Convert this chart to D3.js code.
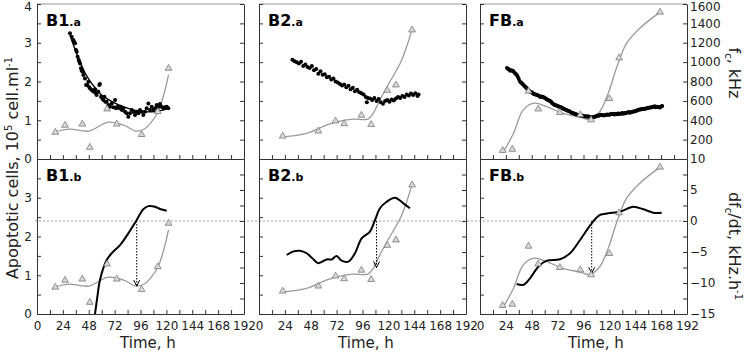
<!DOCTYPE html>
<html>
<head>
<meta charset="utf-8">
<script src="https://cdn.jsdelivr.net/npm/d3@7"></script>
<style>
  body { margin: 0; background: #fff; }
  text { font-family: "DejaVu Sans", Verdana, sans-serif; }
</style>
</head>
<body>
<div id="canvas"></div>
<script>
"use strict"

/***********************************
 DATA
************************************/
let panelNames = ["B1", "B2", "FB"];

// apoptotic cells (10^5 cell/ml), measured points
let b1TriTime = [17, 26, 42, 49, 65, 74, 97, 112, 122];
let b1TriVal = [0.69, 0.87, 0.9, 0.3, 1.29, 0.9, 0.63, 1.22, 2.34];
let b2TriTime = [22, 55, 71, 79, 95, 104, 119, 127, 142];
let b2TriVal = [0.59, 0.72, 0.98, 0.91, 1.13, 0.89, 1.77, 1.91, 3.33];
let fbTriTime = [21, 30, 45, 54, 74, 93, 103, 120, 129, 167];
let fbTriVal = [0.22, 0.25, 1.75, 1.29, 1.2, 1.14, 1.01, 1.56, 2.61, 3.79];

// smoothed apoptotic curve
let b1CurveTime = [17, 30, 48, 66, 80, 92, 100, 106, 112, 117, 122];
let b1CurveVal = [0.70, 0.77, 0.72, 0.95, 0.88, 0.72, 0.78, 0.95, 1.2, 1.6, 2.17];
let b2CurveTime = [22, 44, 63, 72, 87, 101, 106, 112, 121.5, 131, 137, 142];
let b2CurveVal = [0.57, 0.66, 0.88, 0.96, 1.03, 1.03, 1.18, 1.52, 2.0, 2.47, 2.9, 3.35];
let fbCurveTime = [21, 31, 40, 50, 62, 77, 93, 102, 111, 119, 127, 136, 148, 167];
let fbCurveVal = [0.15, 0.66, 1.26, 1.44, 1.35, 1.18, 1.08, 1.02, 1.22, 1.70, 2.38, 2.99, 3.37, 3.79];

// fc, kHz: [time h, kHz]
let b1Dots = [[30.6,1297],[32.2,1262],[33.7,1228],[34.3,1211],[35.3,1194],[36.2,1125],[36.8,1108],
  [37.7,1056],[38.7,1022],[39.3,1004],[39.9,987],[40.8,936],[41.4,912],[42.4,901],[43,867],[44.5,832],
  [45.5,764],[46.7,764],[47.6,798],[48.5,740],[49.2,729],[50.7,712],[51.6,705],[52.9,695],[53.8,719],
  [54.7,678],[55.3,660],[56.9,695],[57.8,764],[58.4,774],[59.4,643],[60.6,626],[61.5,609],[62.5,643],
  [63.4,592],[64.6,592],[66.2,557],[67.7,540],[69.3,574],[70.8,533],[72.4,609],[73.3,523],[74.5,540],
  [76.4,523],[77.6,540],[78.8,506],[80.1,523],[81.6,488],[83.2,471],[84.7,437],[86.3,471],[87.8,506],
  [89.4,488],[90.9,454],[92.5,488],[94,471],[95.5,506],[97.1,488],[98.6,454],[100.2,488],[101.7,523],
  [103.3,574],[104.8,506],[106.4,540],[107.9,506],[109.5,523],[111,557],[112.6,540],[114.1,568],
  [115.6,540],[117.2,523],[118.7,533],[120.3,540],[121.8,523]];
let b2Dots = [[31,1025],[33,1010],[35,1000],[37,985],[39,1005],[41,960],[43,975],[45,950],[47,940],
  [49,960],[51,915],[53,930],[55,880],[57,905],[59,870],[61,875],[63,845],[65,850],[67,820],[69,830],
  [71,800],[73,790],[75,775],[77,760],[79,770],[81,740],[83,755],[85,720],[87,735],[89,700],[91,715],
  [93,690],[95,680],[97,665],[99,640],[100,585],[101,630],[103,625],[105,610],[107,630],[109,600],
  [111,620],[113,585],[115,570],[117,600],[119,610],[121,590],[123,615],[125,605],[127,625],[129,640],
  [131,630],[133,650],[135,640],[137,665],[139,655],[141,675],[143,660],[145,680],[147,650],[148,665]];
let fbDots = [[25,940],[26,930],[27,925],[28,912],[29,915],[30,910],[31,905],[32,890],[33,880],[34,870],
  [35,850],[36,825],[37,800],[38,790],[39,780],[40,768],[41,755],[42,742],[43,735],[44,722],[45,710],
  [46,700],[47,690],[48,688],[49,680],[50,672],[51,668],[52,662],[53,660],[54,655],[55,650],[56,640],
  [57,645],[58,642],[59,638],[60,630],[61,625],[62,615],[63,612],[64,605],[65,600],[66,590],[67,575],
  [68,568],[69,560],[70,555],[71,552],[72,548],[73,542],[74,538],[75,535],[76,528],[77,522],[78,515],
  [79,510],[80,505],[81,500],[82,495],[83,492],[84,485],[85,478],[86,474],[87,470],[88,466],[89,462],
  [90,458],[91,455],[92,452],[93,450],[94,446],[95,448],[96,445],[97,442],[98,438],[99,440],[100,441],
  [101,436],[102,434],[103,432],[104,428],[105,430],[106,435],[107,438],[108,442],[109,448],[110,446],
  [111,452],[112,456],[113,455],[114,452],[115,450],[116,454],[117,456],[118,460],[119,458],[120,458],
  [121,462],[122,468],[123,465],[124,462],[125,460],[126,466],[127,462],[128,470],[129,466],[130,464],
  [131,470],[132,474],[133,468],[134,472],[135,476],[136,478],[137,480],[138,484],[139,478],[140,482],
  [141,486],[142,490],[143,490],[144,494],[145,498],[146,502],[147,508],[148,510],[149,512],[150,515],
  [151,515],[152,518],[153,520],[154,522],[155,525],[156,528],[157,530],[158,532],[159,535],[160,538],
  [161,540],[162,545],[163,534],[164,540],[165,538],[166,535],[167,532],[168,542],[169,548]];

// fitted fc line (B1 only)
let b1FitTime = [30, 35, 40, 45, 50, 55, 60, 70, 80, 90, 100, 110, 122];
let b1FitVal = [1300, 1140, 1000, 880, 790, 720, 660, 590, 540, 505, 488, 490, 520];

// dfc/dt, kHz/h
let b1DerivTime = [53.8, 56, 58.4, 64.6, 69.3, 77, 84.7, 92.5, 98.6, 103.3, 109.5, 114.1, 120.3];
let b1DerivVal = [-15, -12.2, -9.5, -6.3, -5.2, -3.9, -2.0, 0.16, 1.9, 2.4, 2.3, 1.94, 1.66];
let b2DerivTime = [25.7, 32, 38, 44.2, 50, 55, 62.8, 67.4, 72, 76.7, 82.8, 89, 95.2, 102.9, 107.6, 112.2, 118.4, 126.1, 133.9, 140];
let b2DerivVal = [-5.48, -4.9, -4.8, -5.2, -6.1, -6.8, -6.2, -6.2, -5.65, -6.4, -6.56, -5.2, -2.8, -1.7, 0.16, 2.05, 3.1, 3.76, 2.85, 2.05];
let fbDerivTime = [34, 40.2, 46.4, 54.1, 61.9, 74.2, 83.5, 92.8, 103.6, 111.3, 119, 129.9, 142.2, 151.5, 160.8, 168.5];
let fbDerivVal = [-10.16, -10.3, -9.24, -7.37, -6.4, -6.18, -5.2, -3.06, -0.37, 0.97, 1.24, 1.5, 2.3, 1.89, 1.34, 1.34];

// dotted arrows: time where dfc/dt crosses 0, end value on apoptotic curve
let arrowTime = [92.5, 109, 103.6];
let arrowVal = [0.72, 1.2, 1.05];

// tick values
let xTickLabels = [0, 24, 48, 72, 96, 120, 144, 168, 192];
let xTicks = [0, 12, 24, 36, 48, 60, 72, 84, 96, 108, 120, 132, 144, 156, 168, 180, 192];
let leftTopLabels = [0, 1, 2, 3, 4];
let leftBotLabels = [0, 1, 2, 3];
let leftTicks = [0, 0.5, 1, 1.5, 2, 2.5, 3, 3.5, 4];
let rightTopLabels = [200, 400, 600, 800, 1000, 1200, 1400, 1600];
let rightBotLabels = [-15, -10, -5, 0, 5, 10];
let rightBotTicks = [-15, -12.5, -10, -7.5, -5, -2.5, 0, 2.5, 5, 7.5, 10];

/***********************************
 LAYOUT
************************************/
let svgWidth = 746;
let svgHeight = 353;
let topY = 4, midY = 159, botY = 314;
let colX = [[37, 244], [259, 466], [480, 687]];
let timeLabelX = [148, 366, 596];
let grey = "#9a9a9a";

let svg = d3.select("#canvas")
    .append("svg")
    .attr("width", svgWidth)
    .attr("height", svgHeight);

let yLeftTop = d3.scaleLinear().domain([0, 4]).range([midY, topY]);
let yLeftBot = d3.scaleLinear().domain([0, 4]).range([botY, midY]);
let yRightTop = d3.scaleLinear().domain([0, 1600]).range([midY, topY]);
let yRightBot = d3.scaleLinear().domain([-15, 10]).range([botY, midY]);

let zip = (a, b) => a.map((v, i) => [v, b[i]]);
let plain = d3.format("d");

let panels = [
    { tri: zip(b1TriTime, b1TriVal), curve: zip(b1CurveTime, b1CurveVal), dots: b1Dots,
      fit: zip(b1FitTime, b1FitVal), deriv: zip(b1DerivTime, b1DerivVal) },
    { tri: zip(b2TriTime, b2TriVal), curve: zip(b2CurveTime, b2CurveVal), dots: b2Dots,
      fit: null, deriv: zip(b2DerivTime, b2DerivVal) },
    { tri: zip(fbTriTime, fbTriVal), curve: zip(fbCurveTime, fbCurveVal), dots: fbDots,
      fit: null, deriv: zip(fbDerivTime, fbDerivVal) }
];

function styleAxis(g) {
    g.selectAll("path, line").attr("stroke", "#333").attr("stroke-width", 1);
    g.selectAll("text").attr("font-size", "12px").attr("fill", "#222")
        .attr("font-family", "\"DejaVu Sans\", Verdana, sans-serif");
}

// keep the topmost tick label inside the picture
function nudgeTop(g) {
    g.selectAll(".tick")
        .filter(function () { return +this.getAttribute("transform").match(/,([\d.]+)\)/)[1] < topY + 1; })
        .select("text").attr("dy", "0.55em");
}

/***********************************
 DOTTED ZERO LINE (dfc/dt = 0)
************************************/
svg.append("line")
    .attr("x1", 35).attr("x2", colX[2][1])
    .attr("y1", yRightBot(0)).attr("y2", yRightBot(0))
    .attr("stroke", "#888")
    .attr("stroke-width", 0.8)
    .attr("stroke-dasharray", "2,2");

/***********************************
 PANELS
************************************/
panels.forEach((p, i) => {
    let x = d3.scaleLinear().domain([0, 192]).range(colX[i]);
    let g = svg.append("g");

    // clip paths
    [["a", topY, midY], ["b", midY, botY]].forEach(([k, y0, y1]) => {
        svg.append("clipPath").attr("id", `clip${i}${k}`)
            .append("rect")
            .attr("x", colX[i][0]).attr("y", y0)
            .attr("width", colX[i][1] - colX[i][0]).attr("height", y1 - y0);
    });

    let greyLine = y => d3.line()
        .x(d => x(d[0])).y(d => y(d[1]))
        .curve(d3.curveCatmullRom.alpha(0.5));

    [["a", yLeftTop], ["b", yLeftBot]].forEach(([k, y]) => {
        let pg = g.append("g").attr("clip-path", `url(#clip${i}${k})`);

        pg.append("path")
            .datum(p.curve)
            .attr("d", greyLine(y))
            .attr("fill", "none")
            .attr("stroke", grey)
            .attr("stroke-width", 1.3);

        if (k === "a") {
            pg.selectAll("circle")
                .data(p.dots)
                .join("circle")
                .attr("cx", d => x(d[0]))
                .attr("cy", d => yRightTop(d[1]))
                .attr("r", 2)
                .attr("fill", "black");

            if (p.fit) {
                pg.append("path")
                    .datum(p.fit)
                    .attr("d", d3.line().x(d => x(d[0])).y(d => yRightTop(d[1])).curve(d3.curveCatmullRom))
                    .attr("fill", "none")
                    .attr("stroke", "black")
                    .attr("stroke-width", 1.4);
            }
        } else {
            pg.append("path")
                .datum(p.deriv)
                .attr("d", d3.line().x(d => x(d[0])).y(d => yRightBot(d[1])).curve(d3.curveCatmullRom))
                .attr("fill", "none")
                .attr("stroke", "black")
                .attr("stroke-width", 2);

            // dotted arrow from dfc/dt = 0 down to the apoptotic curve
            let ax = x(arrowTime[i]);
            let ay = y(arrowVal[i]);
            pg.append("line")
                .attr("x1", ax).attr("x2", ax)
                .attr("y1", yRightBot(0)).attr("y2", ay)
                .attr("stroke", "black")
                .attr("stroke-width", 1)
                .attr("stroke-dasharray", "1.5,1.5");
            pg.append("path")
                .attr("d", `M${ax - 3},${ay - 6}L${ax},${ay}L${ax + 3},${ay - 6}`)
                .attr("fill", "none")
                .attr("stroke", "black")
                .attr("stroke-width", 1);
        }

        pg.selectAll(".tri")
            .data(p.tri)
            .join("path")
            .attr("class", "tri")
            .attr("transform", d => `translate(${x(d[0])},${y(d[1])})`)
            .attr("d", d3.symbol(d3.symbolTriangle).size(20))
            .attr("fill", "#d8d8d8")
            .attr("stroke", "#7a7a7a")
            .attr("stroke-width", 0.8);
    });

    /***********************************
     FRAME AND AXES
    ************************************/
    g.append("line")
        .attr("x1", colX[i][0]).attr("x2", colX[i][1])
        .attr("y1", topY).attr("y2", topY)
        .attr("stroke", "#999");

    // time axis ticks (inward) on both panels
    [midY, botY].forEach(yy => {
        g.append("g")
            .attr("transform", `translate(0,${yy})`)
            .call(d3.axisTop(x).tickValues(xTicks).tickFormat("").tickSize(4).tickSizeOuter(0))
            .call(styleAxis);
    });
    g.append("g")
        .attr("transform", `translate(0,${botY})`)
        .call(d3.axisBottom(x).tickValues(xTickLabels).tickFormat(plain).tickSize(0).tickPadding(7).tickSizeOuter(0))
        .call(styleAxis)
        .call(a => a.select(".domain").remove());

    // left edge
    [[yLeftTop, leftTopLabels], [yLeftBot, leftBotLabels]].forEach(([y, labels]) => {
        g.append("g").attr("transform", `translate(${colX[i][0]},0)`)
            .call(d3.axisLeft(y).tickValues(leftTicks).tickSize(-4).tickSizeOuter(0).tickFormat(""))
            .call(styleAxis);
        if (i === 0) {
            g.append("g").attr("transform", `translate(${colX[i][0]},0)`)
                .call(d3.axisLeft(y).tickValues(labels).tickFormat(plain).tickSize(0).tickPadding(5))
                .call(styleAxis)
                .call(a => a.select(".domain").remove())
                .call(nudgeTop);
        }
    });

    // right edge
    [[yRightTop, rightTopLabels, rightTopLabels], [yRightBot, rightBotTicks, rightBotLabels]].forEach(([y, ticks, labels]) => {
        g.append("g").attr("transform", `translate(${colX[i][1]},0)`)
            .call(d3.axisRight(y).tickValues(ticks).tickSize(-4).tickSizeOuter(0).tickFormat(""))
            .call(styleAxis);
        if (i === 2) {
            g.append("g").attr("transform", `translate(${colX[i][1]},0)`)
                .call(d3.axisRight(y).tickValues(labels).tickFormat(plain).tickSize(0).tickPadding(3))
                .call(styleAxis)
                .call(a => a.select(".domain").remove())
                .call(nudgeTop);
        }
    });

    /***********************************
     PANEL NAMES AND TIME LABEL
    ************************************/
    [["a", topY + 22], ["b", midY + 22]].forEach(([k, yy]) => {
        let t = svg.append("text")
            .attr("x", colX[i][0] + 9)
            .attr("y", yy)
            .attr("font-weight", "bold");
        t.append("tspan").attr("font-size", "16px").text(panelNames[i]);
        t.append("tspan").attr("font-size", "11px").text("." + k);
    });

    svg.append("text")
        .attr("x", timeLabelX[i])
        .attr("y", 348)
        .attr("text-anchor", "middle")
        .attr("font-size", "15px")
        .attr("fill", "#222")
        .text("Time, h");
});

/***********************************
 AXIS TITLES
************************************/
let leftTitle = svg.append("text")
    .attr("transform", "translate(18,168) rotate(-90)")
    .attr("text-anchor", "middle")
    .attr("font-size", "16px")
    .attr("fill", "#222");
leftTitle.append("tspan").text("Apoptotic cells, 10");
leftTitle.append("tspan").attr("font-size", "10px").attr("dy", -6).text("5");
leftTitle.append("tspan").attr("dy", 6).text(" cell.ml");
leftTitle.append("tspan").attr("font-size", "10px").attr("dy", -6).text("-1");

let rightTop = svg.append("text")
    .attr("transform", "translate(729,73) rotate(90)")
    .attr("text-anchor", "middle")
    .attr("font-size", "16px")
    .attr("fill", "#222");
rightTop.append("tspan").text("f");
rightTop.append("tspan").attr("font-size", "10px").attr("dy", 4).text("c");
rightTop.append("tspan").attr("dy", -4).text(", kHz");

let rightBot = svg.append("text")
    .attr("transform", "translate(729,246) rotate(90)")
    .attr("text-anchor", "middle")
    .attr("font-size", "16px")
    .attr("fill", "#222");
rightBot.append("tspan").text("df");
rightBot.append("tspan").attr("font-size", "10px").attr("dy", 4).text("c");
rightBot.append("tspan").attr("dy", -4).text("/dt, kHz.h");
rightBot.append("tspan").attr("font-size", "10px").attr("dy", -6).text("-1");
</script>
</body>
</html>
